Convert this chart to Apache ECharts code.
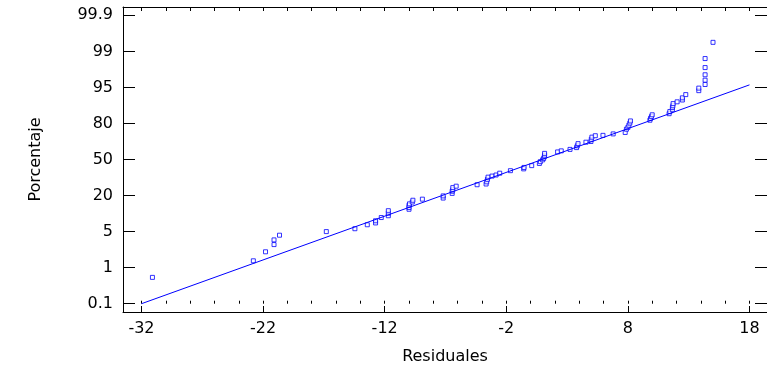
<!DOCTYPE html>
<html>
<head>
<meta charset="utf-8">
<script src="https://cdn.jsdelivr.net/npm/echarts@6/dist/echarts.min.js"></script>
<style>
  html, body { margin: 0; padding: 0; background: #fff; }
  #chart { width: 767px; height: 371px; }
</style>
</head>
<body>
<div id="chart"></div>
<script>
// residuales (eje x) y posicion en la escala de probabilidad (unidades de paso entre etiquetas)
const residuales = [-31.1, -22.8, -21.8, -21.1, -21.1, -20.65, -16.8, -14.45, -13.43, -12.75, -12.75, -12.28,
  -11.7, -11.7, -11.7, -10.0, -10.0, -10.0, -9.96, -9.73, -9.68, -8.9, -7.19, -7.19, -6.45, -6.45, -6.4, -6.4,
  -6.12, -4.4, -3.66, -3.61, -3.55, -3.5, -3.17, -2.84, -2.54, -1.66, -0.57, -0.54, 0.09, 0.72, 0.8, 0.99, 1.07,
  1.13, 1.15, 1.15, 2.22, 2.52, 3.24, 3.78, 3.84, 3.9, 4.55, 4.96, 4.99, 5.04, 5.32, 5.95, 6.79, 7.78, 7.88, 8.0,
  8.08, 8.16, 8.21, 9.81, 9.86, 9.94, 10.0, 11.39, 11.45, 11.66, 11.66, 11.7, 11.72, 12.05, 12.48, 12.48, 12.76,
  13.83, 13.83, 14.35, 14.35, 14.35, 14.35, 14.35, 15.0];
const posicion = [0.73, 1.19, 1.44, 1.64, 1.77, 1.90, 2.00, 2.08, 2.19, 2.24, 2.30, 2.39, 2.44, 2.51, 2.58,
  2.62, 2.67, 2.73, 2.77, 2.82, 2.87, 2.90, 2.93, 2.99, 3.06, 3.12, 3.16, 3.22, 3.26, 3.30, 3.32, 3.38, 3.45,
  3.51, 3.54, 3.57, 3.62, 3.69, 3.74, 3.78, 3.83, 3.89, 3.94, 3.99, 4.03, 4.08, 4.12, 4.17, 4.21, 4.24, 4.28,
  4.33, 4.38, 4.44, 4.48, 4.50, 4.56, 4.62, 4.66, 4.67, 4.71, 4.75, 4.84, 4.89, 4.95, 5.01, 5.07, 5.09, 5.14,
  5.19, 5.24, 5.27, 5.33, 5.38, 5.44, 5.49, 5.55, 5.60, 5.65, 5.71, 5.80, 5.91, 5.98, 6.08, 6.20, 6.35, 6.55,
  6.80, 7.25];
// recta de referencia
const rectaX = [-32, 18];
const rectaY = [0, 6.07];

const etiquetasY = ['0.1', '1', '5', '20', '50', '80', '95', '99', '99.9'];
const posEtiquetasY = [0, 1, 2, 3, 4, 5, 6, 7, 8];
const ticksX = [-32, -22, -12, -2, 8, 18];
const ticksXMenores = [];
for (let v = -32; v <= 18; v += 2) ticksXMenores.push(v);

const font = '"DejaVu Sans", Verdana, sans-serif';
const xMin = -33.52, xMax = 19.44;
const yMin = -0.23, yMax = 8.23;

const puntos = residuales.map((r, i) => [r, posicion[i]]);
const recta = rectaX.map((r, i) => [r, rectaY[i]]);

const ejeXBase = {
  type: 'value', min: xMin, max: xMax,
  splitLine: { show: false },
  axisLabel: { show: false },
  axisLine: { show: false }
};

const option = {
  backgroundColor: '#fff',
  animation: false,
  grid: { left: 123, right: -1, top: 7, bottom: 59, show: false },
  xAxis: [
    {
      ...ejeXBase,
      position: 'bottom',
      name: 'Residuales',
      nameLocation: 'middle',
      nameGap: 37,
      nameTextStyle: { fontFamily: font, fontSize: 16, color: '#000' },
      axisLine: { show: true, onZero: false, lineStyle: { color: '#000', width: 1 } },
      axisTick: { show: true, inside: true, length: 6, customValues: ticksX, lineStyle: { color: '#000' } },
      axisLabel: { show: true, customValues: ticksX, margin: 9, fontFamily: font, fontSize: 16, color: '#000' }
    },
    {
      ...ejeXBase,
      position: 'bottom',
      axisTick: { show: true, inside: true, length: 3, customValues: ticksXMenores, lineStyle: { color: '#000' } }
    },
    {
      ...ejeXBase,
      position: 'top',
      axisLine: { show: true, onZero: false, lineStyle: { color: '#000', width: 1 } },
      axisTick: { show: true, inside: true, length: 4, customValues: ticksXMenores, lineStyle: { color: '#000' } }
    }
  ],
  yAxis: [
    {
      type: 'value', min: yMin, max: yMax, position: 'left',
      name: 'Porcentaje',
      nameLocation: 'middle',
      nameGap: 79,
      nameTextStyle: { fontFamily: font, fontSize: 16, color: '#000' },
      splitLine: { show: false },
      axisLine: { show: true, onZero: false, lineStyle: { color: '#000', width: 1 } },
      axisTick: { show: true, inside: true, length: 12, customValues: posEtiquetasY, lineStyle: { color: '#000' } },
      axisLabel: {
        customValues: posEtiquetasY, margin: 10, fontFamily: font, fontSize: 16, color: '#000',
        formatter: v => etiquetasY[Math.round(v)]
      }
    },
    {
      type: 'value', min: yMin, max: yMax, position: 'right',
      splitLine: { show: false },
      axisLine: { show: true, onZero: false, lineStyle: { color: '#000', width: 1 } },
      axisTick: { show: true, inside: true, length: 12, customValues: posEtiquetasY, lineStyle: { color: '#000' } },
      axisLabel: { show: false }
    }
  ],
  series: [
    {
      type: 'line',
      data: recta,
      xAxisIndex: 0, yAxisIndex: 0,
      symbol: 'none',
      lineStyle: { color: '#0000ff', width: 1 },
      silent: true
    },
    {
      type: 'scatter',
      data: puntos,
      xAxisIndex: 0, yAxisIndex: 0,
      symbol: 'rect',
      symbolSize: 4,
      itemStyle: { color: '#fff', borderColor: '#0000ff', borderWidth: 1 }
    }
  ]
};

const chart = echarts.init(document.getElementById('chart'), null, { renderer: 'canvas' });
chart.setOption(option);
</script>
</body>
</html>
